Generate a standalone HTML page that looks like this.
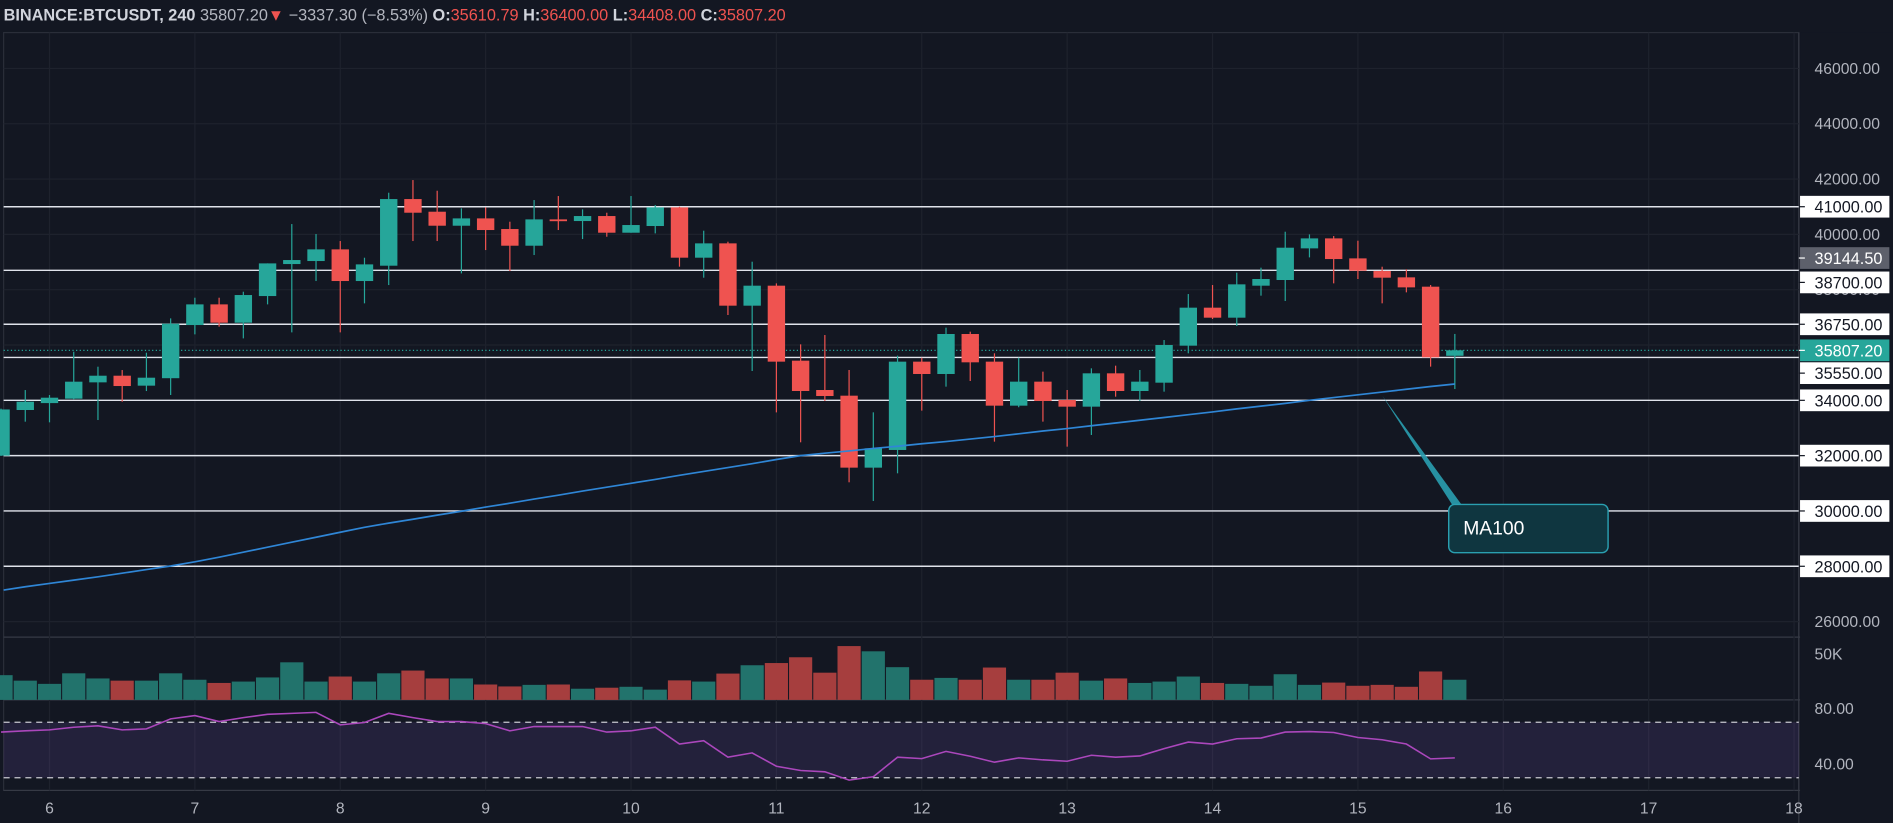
<!DOCTYPE html>
<html><head><meta charset="utf-8">
<style>
html,body{margin:0;padding:0;background:#131722;overflow:hidden}
svg{display:block}
text{font-family:"Liberation Sans",sans-serif}
</style></head>
<body>
<svg id="chart" width="1893" height="823" viewBox="0 0 1568 682" preserveAspectRatio="none" xmlns="http://www.w3.org/2000/svg">
<rect x="0" y="0" width="1568" height="682" fill="#131722"/>
<text x="3" y="17" font-size="13.5" fill="#d1d4dc"><tspan font-weight="bold">BINANCE:BTCUSDT, 240</tspan> <tspan fill="#b2b5be">35807.20</tspan><tspan fill="#ef5350">▼</tspan> <tspan fill="#b2b5be">−3337.30 (−8.53%)</tspan> <tspan font-weight="bold">O:</tspan><tspan fill="#ef5350">35610.79</tspan> <tspan font-weight="bold">H:</tspan><tspan fill="#ef5350">36400.00</tspan> <tspan font-weight="bold">L:</tspan><tspan fill="#ef5350">34408.00</tspan> <tspan font-weight="bold">C:</tspan><tspan fill="#ef5350">35807.20</tspan></text>
<g id="grid"></g>
<g id="levels"></g>
<g id="volume"></g>
<g id="rsi"></g>
<g id="candles"></g>
<g id="ma"></g>
<g id="axis"></g>
<g>
<polygon points="1145,328 1212,420 1204,420" fill="#2a9fb0" opacity="0.9"/>
<rect x="1200" y="418" width="132" height="40" rx="5" fill="#0f3640" stroke="#2a9fb0" stroke-width="1.2"/>
<text x="1212" y="443" font-size="16" fill="#ffffff">MA100</text>
</g>
</svg>
<script>
// --- data (candle index k = -2 .. 58, 4h candles) ---
const days = ["6","7","8","9","10","11","12","13","14","15","16","17","18"];
const openP  = [32000,33650,33900,34060,34650,34890,34530,34800,36722,37469,36807,37770,38927,39036,39458,38313,38867,41277,40819,40313,40578,40193,39590,40542,40482,40663,40060,40302,40976,39157,39675,37422,38145,35434,34373,34168,31566,32205,35398,34952,36398,35398,33807,34675,34012,33771,34976,34337,34638,35976,37350,36988,38145,38350,39494,39855,39132,38674,38446,38109,35610.79];
const closeP = [33670,33950,34095,34674,34890,34517,34818,36770,37469,36807,37807,38951,39072,39458,38313,38915,41277,40783,40313,40578,40157,39590,40542,40482,40663,40060,40338,40976,39157,39675,37422,38145,35398,34337,34156,31566,32265,35398,34952,36398,35374,33807,34675,33976,33771,34976,34337,34675,36000,37350,36988,38193,38386,39518,39855,39108,38686,38434,38084,35555,35807.20];
const highP  = [33700,34372,34192,35758,35216,35095,35722,36963,37710,37710,37927,38951,40373,40012,39759,39156,41506,41964,41578,40940,40976,40458,41241,41386,40904,40783,41386,41060,41000,40133,39735,39012,38230,36024,36361,35097,33566,35615,35542,36627,36482,35700,35542,35037,34373,35157,35253,35097,36180,37843,38169,38615,38796,40096,40000,39940,39771,38831,38735,38170,36400];
const lowP   = [31990,33228,33204,34040,33288,33950,34336,34192,36385,36662,36240,37469,36457,38313,36457,37506,38168,39759,39759,38590,39433,38674,39253,40157,39831,39915,40060,40036,38832,38434,37085,35060,33566,32482,33976,31036,30361,31361,33627,34494,34699,32506,33750,33229,32325,32747,34132,33976,34313,35700,36940,36686,37784,37591,39168,38229,38386,37507,37904,35218,34408];
const volumeK = [27,21,17.5,29,23.4,21,21,29,22,18.5,20,24.5,41,20,25.5,20,29,32,23.4,23.4,16.8,14.7,16.4,16.8,12.2,13.3,14.3,11.2,21.3,20,28.7,37.8,40.2,46.5,29.7,58.7,53,35.7,22,24,22,35.3,22,22,29.7,21,23.4,18.5,20,25.5,18.5,17.5,15.4,28,16.4,18.9,15.4,16.4,14.3,31,22];
const rsiVals = [62.9,63.8,64.5,66.4,67.4,64.5,65.2,72.4,74.8,70.5,73.3,75.7,76.4,77.1,68.1,69.8,76.4,73.3,70.5,70.5,69,63.8,66.9,66.9,66.9,62.9,63.8,66.4,54.3,56.7,44.8,47.9,38.3,35.2,34.3,28.3,30.7,44.8,43.8,49,45.5,41.2,44.3,42.9,41.9,46.2,44.8,45.7,51,55.7,54.3,58.1,58.6,62.9,63.3,62.6,59,57.4,54.3,43.6,44.3];
const ma100 = [27140,27260,27380,27500,27620,27750,27880,28010,28160,28330,28510,28690,28870,29050,29230,29410,29560,29700,29850,29990,30140,30280,30430,30570,30720,30860,31000,31140,31290,31430,31570,31710,31860,32000,32090,32170,32260,32340,32430,32510,32600,32690,32790,32890,32980,33080,33180,33280,33380,33480,33580,33690,33790,33890,34000,34100,34200,34300,34400,34500,34590];
const levelPrices = [41000,38700,36750,35550,34000,32000,30000,28000];
const priceTicks = [46000,44000,42000,40000,38000,26000];

// --- axes ---
const NS="http://www.w3.org/2000/svg";
const PLOT_R=1490;
const xDay = d => 41 + d*120.42;
const xC = k => 41 + (k-2)*20.07;
const yP = p => 171.3 + (41000-p)*0.02292;
const yV = v => 580 - v*(38/50);
const yR = r => 587 + (80-r)*1.15;
function mk(tag, attrs, parent){const e=document.createElementNS(NS,tag);for(const a in attrs)e.setAttribute(a,attrs[a]);parent.appendChild(e);return e;}

const grid=document.getElementById('grid');
mk('rect',{x:3,y:27,width:PLOT_R-3,height:628,fill:'none',stroke:'#2a2e39','stroke-width':1},grid);
[528,580,655].forEach(y=>{const l=mk('line',{x1:3,x2:1568,y1:y,y2:y,stroke:'#363a45','stroke-width':1},grid);

});
mk('line',{x1:PLOT_R,x2:PLOT_R,y1:27,y2:682,stroke:'#363a45','stroke-width':1},grid);
days.forEach((d,i)=>{const l=mk('line',{x1:xDay(i),x2:xDay(i),y1:27,y2:655,stroke:'#1e222d','stroke-width':1},grid);

});
[46000,44000,42000,40000,38000,36000,34000,32000,30000,28000,26000].forEach(p=>{const l=mk('line',{x1:3,x2:PLOT_R,y1:yP(p),y2:yP(p),stroke:'#1e222d','stroke-width':1},grid);

});
const band=mk('rect',{x:3,y:yR(70),width:PLOT_R-3,height:yR(30)-yR(70),fill:'#7e57c2','fill-opacity':0.16},grid);


[70,30].forEach(r=>{const l=mk('line',{x1:3,x2:PLOT_R,y1:yR(r),y2:yR(r),stroke:'#c8c8d0','stroke-width':1,'stroke-dasharray':'5 4'},grid);

});

const lv=document.getElementById('levels');
levelPrices.forEach(p=>{const l=mk('line',{x1:3,x2:PLOT_R,y1:yP(p),y2:yP(p),stroke:'#e0e3eb','stroke-width':1.2},lv);

});
const cur=mk('line',{x1:3,x2:PLOT_R,y1:yP(35807.2),y2:yP(35807.2),stroke:'#26a69a','stroke-width':1,'stroke-dasharray':'1 2'},lv);



const vg=document.getElementById('volume');
volumeK.forEach((v,i)=>{const up=closeP[i]>=openP[i];const x=xC(i);
const r=mk('rect',{x:x-9.6,y:yV(v),width:19.2,height:580-yV(v),fill:up?'#22736c':'#a63e3e'},vg);

});

const rg=document.getElementById('rsi');
const rl=mk('polyline',{points:rsiVals.map((r,i)=>xC(i)+','+yR(r)).join(' '),fill:'none',stroke:'#ab47bc','stroke-width':1.3},rg);



const cg=document.getElementById('candles');
openP.forEach((o,i)=>{const c=closeP[i];const up=c>=o;const col=up?'#26a69a':'#ef5350';const x=xC(i);
const w=mk('line',{x1:x,x2:x,y1:yP(highP[i]),y2:yP(lowP[i]),stroke:col,'stroke-width':1},cg);


const top=yP(Math.max(o,c));const h=Math.max(1.5,yP(Math.min(o,c))-top);
const b=mk('rect',{x:x-7.2,y:top,width:14.4,height:h,fill:col},cg);

});

const mg=document.getElementById('ma');
const ml=mk('polyline',{points:ma100.map((m,i)=>Math.max(3,xC(i))+','+yP(m)).join(' '),fill:'none',stroke:'#2f86d6','stroke-width':1.4},mg);



const ax=document.getElementById('axis');
mk('rect',{x:PLOT_R+1,y:27,width:78,height:655,fill:'#131722'},ax);
priceTicks.forEach(p=>{const t=mk('text',{x:1503,y:yP(p)+4.5,'font-size':13,fill:'#b2b5be'},ax);t.textContent=p.toFixed(2);

});
function box(p,fill,tc,bold,off){const y=yP(p)+(off||0);
const r=mk('rect',{x:PLOT_R+1,y:y-9,width:74,height:18,fill:fill},ax);


mk('line',{x1:PLOT_R,x2:PLOT_R+5,y1:y,y2:y,stroke:tc,'stroke-width':1},ax);
const t=mk('text',{x:1503,y:y+5,'font-size':13.5,fill:tc,'font-weight':bold?'bold':'normal'},ax);t.textContent=p.toFixed(2);

}
const boxOffsets = {38700:10, 35550:13};
levelPrices.forEach(p=>box(p,'#ffffff','#131722',false,boxOffsets[p]||0));
box(39144.5,'#5d606b','#ffffff',false,0);
box(35807.2,'#26a69a','#ffffff',false,0);
[['50K',yV(50)],['80.00',yR(80)],['40.00',yR(40)]].forEach(([s,y])=>{const t=mk('text',{x:1503,y:y+4.5,'font-size':13,fill:'#b2b5be'},ax);t.textContent=s;

});
days.forEach((d,i)=>{const t=mk('text',{x:xDay(i),y:674,'font-size':13,fill:'#b2b5be','text-anchor':'middle'},ax);t.textContent=d;

});
</script>
</body></html>
